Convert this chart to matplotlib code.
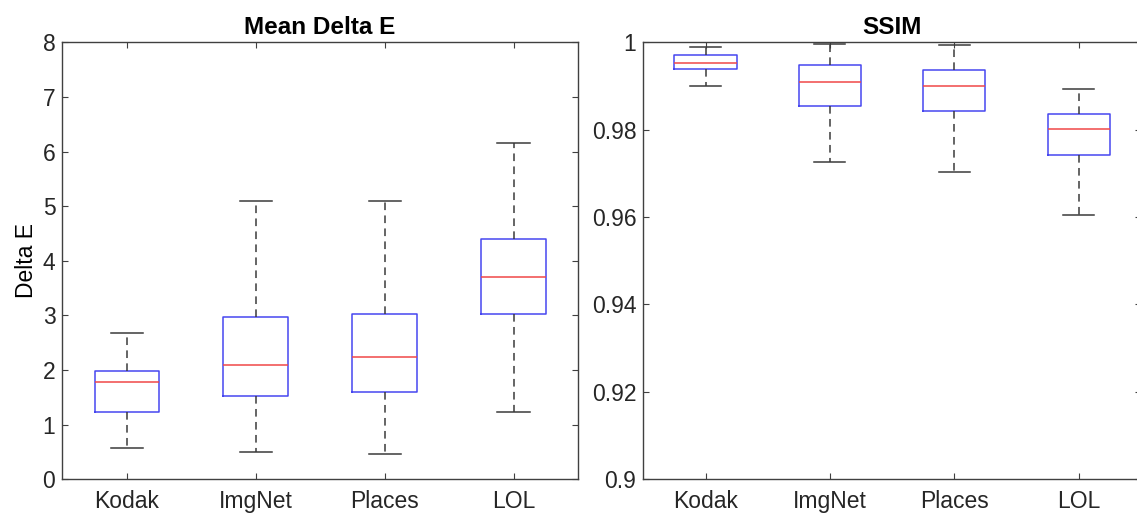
import matplotlib
matplotlib.use('Agg')
import matplotlib.pyplot as plt

categories = ['Kodak', 'ImgNet', 'Places', 'LOL']

# Mean Delta E: whisker low, Q1, median, Q3, whisker high
de_low = [0.57, 0.50, 0.47, 1.23]
de_q1 = [1.23, 1.53, 1.60, 3.02]
de_med = [1.78, 2.09, 2.24, 3.71]
de_q3 = [1.98, 2.97, 3.03, 4.40]
de_high = [2.67, 5.09, 5.10, 6.15]

# SSIM
ss_low = [0.9900, 0.9725, 0.9704, 0.9604]
ss_q1 = [0.9939, 0.9854, 0.9843, 0.9741]
ss_med = [0.9953, 0.9908, 0.9901, 0.9801]
ss_q3 = [0.9971, 0.9947, 0.9937, 0.9837]
ss_high = [0.9989, 0.9995, 0.9994, 0.9892]

plt.rcParams['font.family'] = ['Liberation Sans', 'DejaVu Sans']
axcol = '#404040'


def make_stats(low, q1, med, q3, high):
    return [dict(whislo=a, q1=b, med=c, q3=d, whishi=e, fliers=[], label=n)
            for a, b, c, d, e, n in zip(low, q1, med, q3, high, categories)]


def draw(ax, stats):
    ax.bxp(stats, positions=range(1, len(stats) + 1), widths=0.5,
           showfliers=False,
           boxprops=dict(color='#4646f0', linewidth=1.1),
           medianprops=dict(color='#f04848', linewidth=1.1),
           whiskerprops=dict(color='#3a3a3a', linewidth=1.1, linestyle=(0, (5, 3.5))),
           capprops=dict(color='#3a3a3a', linewidth=1.1),
           capwidths=0.25)
    ax.set_xlim(0.5, 4.5)
    ax.tick_params(direction='in', top=True, right=True, length=4,
                   color=axcol, labelsize=16.5, labelcolor='#262626', pad=5)
    ax.tick_params(axis='x', pad=8)
    for s in ax.spines.values():
        s.set_color(axcol)
        s.set_linewidth(1.0)


fig = plt.figure(figsize=(11.37, 5.15), dpi=100, facecolor='white')

ax1 = fig.add_axes([0.0548, 0.0693, 0.4536, 0.8486])
draw(ax1, make_stats(de_low, de_q1, de_med, de_q3, de_high))
ax1.set_ylim(0, 8)
ax1.set_yticks(range(0, 9))
ax1.set_ylabel('Delta E', fontsize=16.5, labelpad=3)
ax1.set_title('Mean Delta E', fontsize=17.5, fontweight='bold', pad=6)

ax2 = fig.add_axes([0.5658, 0.0693, 0.4377, 0.8486])
draw(ax2, make_stats(ss_low, ss_q1, ss_med, ss_q3, ss_high))
ax2.set_ylim(0.9, 1.0)
yt = [0.9, 0.92, 0.94, 0.96, 0.98, 1.0]
ax2.set_yticks(yt)
ax2.set_yticklabels(['0.9', '0.92', '0.94', '0.96', '0.98', '1'])
ax2.set_title('SSIM', fontsize=17.5, fontweight='bold', pad=6)

fig.savefig('out.png', dpi=100)
